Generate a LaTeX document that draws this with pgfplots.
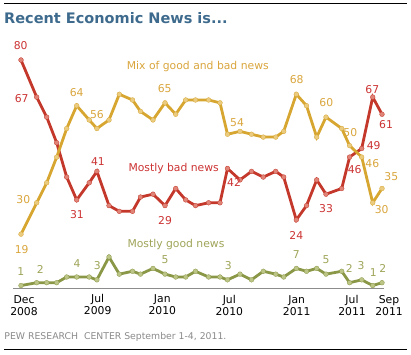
\documentclass[border=0pt]{standalone}
\usepackage{pgfplots}
\usepackage{pgfplotstable}
\pgfplotsset{compat=1.18}
\usepackage{fontspec}
\setmainfont{DejaVu Sans}
\definecolor{redline}{HTML}{C4382B}
\definecolor{redmark}{HTML}{E08478}
\definecolor{redtext}{HTML}{CC3333}
\definecolor{yelline}{HTML}{D7A630}
\definecolor{yelmark}{HTML}{EACB80}
\definecolor{yeltext}{HTML}{D9A53C}
\definecolor{grnline}{HTML}{8A9746}
\definecolor{grnmark}{HTML}{BCC486}
\definecolor{grntext}{HTML}{9FA458}
\definecolor{titleblue}{HTML}{3E6B8D}
\definecolor{footgray}{HTML}{8A8A8A}
\definecolor{basegray}{HTML}{8C8C8C}

\pgfplotstableread{
x red mix good
21 80 19 1
36.7 67 30 2
46.7 60 37 2
56.7 51 46 2
66.7 39 56 4
76.7 31 64 4
89.2 37 59 4
96.9 41 56 3
109 29 59 11
119.3 27 68 5
132.5 27 66 6
140.5 32 62 5
153 33 59 7
165 29 65 5
175.7 35 61 4
185.7 31 66 4
195.5 29 66 6
208.6 30 66 4
220 30 65 4
227.5 42 54 3
240 38 55 5
251.5 41 54 3
263.3 39 53 6
275.7 41 53 5
283.7 39 55 4
296.3 24 68 7
306.5 29 64 6
316.7 38 53 7
326 33 60 5
341.7 35 56 6
349.6 46 50 2
361.7 49 46 3
372.7 67 30 1
382 61 35 2
}\datatable

\begin{document}
\begin{tikzpicture}
\useasboundingbox (0,0) rectangle (411pt,354pt);
\begin{axis}[at={(0pt,65.6pt)}, anchor=south west, scale only axis,
  width=411pt, height=285.5pt, xmin=0, xmax=411, ymin=0, ymax=100,
  hide axis, clip=false]
\addplot[grnline, line width=2.8pt, mark=*, mark size=2.4pt,
  mark options={fill=grnmark, draw=grnline, line width=0.3pt}] table[x=x,y=good]{\datatable};
\addplot[redline, line width=2.8pt, mark=*, mark size=2.4pt,
  mark options={fill=redmark, draw=redline, line width=0.3pt}] table[x=x,y=red]{\datatable};
\addplot[yelline, line width=2.8pt, mark=*, mark size=2.4pt,
  mark options={fill=yelmark, draw=yelline, line width=0.3pt}] table[x=x,y=mix]{\datatable};
\end{axis}
\begin{scope}[x=1pt, y=-1pt, yshift=354pt]
% rules
\draw[black, line width=1.1pt] (4,3.3) -- (407,3.3);
\draw[black, line width=1.1pt] (4,349.3) -- (407,349.3);
\draw[basegray, line width=0.9pt] (13,288.4) -- (384,288.4);
% title
\node[anchor=base west, inner sep=0, text=titleblue, font=\fontsize{14.5}{16}\selectfont\bfseries] at (4,23.3) {Recent Economic News is...};
% footer
\node[anchor=base west, inner sep=0, text=footgray, font=\fontsize{9.3}{11}\selectfont] at (4.3,339) {PEW RESEARCH\ \ CENTER September 1-4, 2011.};
% series names
\node[anchor=base west, inner sep=0, text=yeltext, font=\fontsize{10.8}{12}\selectfont] at (126.7,70) {Mix of good and bad news};
\node[anchor=base west, inner sep=0, text=redtext, font=\fontsize{10.8}{12}\selectfont] at (128.3,171.7) {Mostly bad news};
\node[anchor=base west, inner sep=0, text=grntext, font=\fontsize{10.8}{12}\selectfont] at (127.3,247.3) {Mostly good news};
% tick labels
\tikzset{tl/.style={anchor=base, inner sep=0, font=\fontsize{10.8}{12}\selectfont}}
\node[tl] at (24,303.5) {Dec};   \node[tl] at (24,315.7) {2008};
\node[tl] at (97.7,302.5) {Jul}; \node[tl] at (97.7,314.7) {2009};
\node[tl] at (162.3,302.5) {Jan};\node[tl] at (162.3,314.7) {2010};
\node[tl] at (229.3,303.5) {Jul};\node[tl] at (229.3,315.7) {2010};
\node[tl] at (296.7,303.5) {Jan};\node[tl] at (296.7,315.7) {2011};
\node[tl] at (352,303.5) {Jul};  \node[tl] at (352,315.7) {2011};
\node[tl] at (389,303.5) {Sep};  \node[tl] at (389,315.7) {2011};
% data labels
\tikzset{dl/.style={anchor=center, inner sep=0, font=\fontsize{10.8}{12}\selectfont}}
\foreach \v/\x/\y in {80/20.7/46, 67/21.7/99, 31/77/215, 41/98/162, 29/165/221, 42/234/182, 24/296.3/235, 33/326/208.7, 46/354.7/170, 49/373.7/146, 67/372.3/89.7, 61/386/124.7}
  \node[dl, text=redtext] at (\x,\y) {\v};
\foreach \v/\x/\y in {30/23.3/199.3, 19/21.7/249.7, 64/76.7/92.3, 56/97/115, 65/164.7/89, 54/237/122.3, 68/296.7/80, 60/326.3/103, 50/350.3/133, 46/372.3/163.3, 30/381.7/209.3, 35/391.3/177}
  \node[dl, text=yeltext] at (\x,\y) {\v};
\foreach \v/\x/\y in {1/20.7/272, 2/40.3/269.3, 4/77/263.3, 3/97.3/265.3, 5/165/260, 3/228.3/266, 7/296.3/254.7, 5/326/260, 2/349.3/268.7, 3/361/266, 1/373.3/272.7, 2/382.7/268.7}
  \node[dl, text=grntext] at (\x,\y) {\v};
\end{scope}
\end{tikzpicture}
\end{document}
